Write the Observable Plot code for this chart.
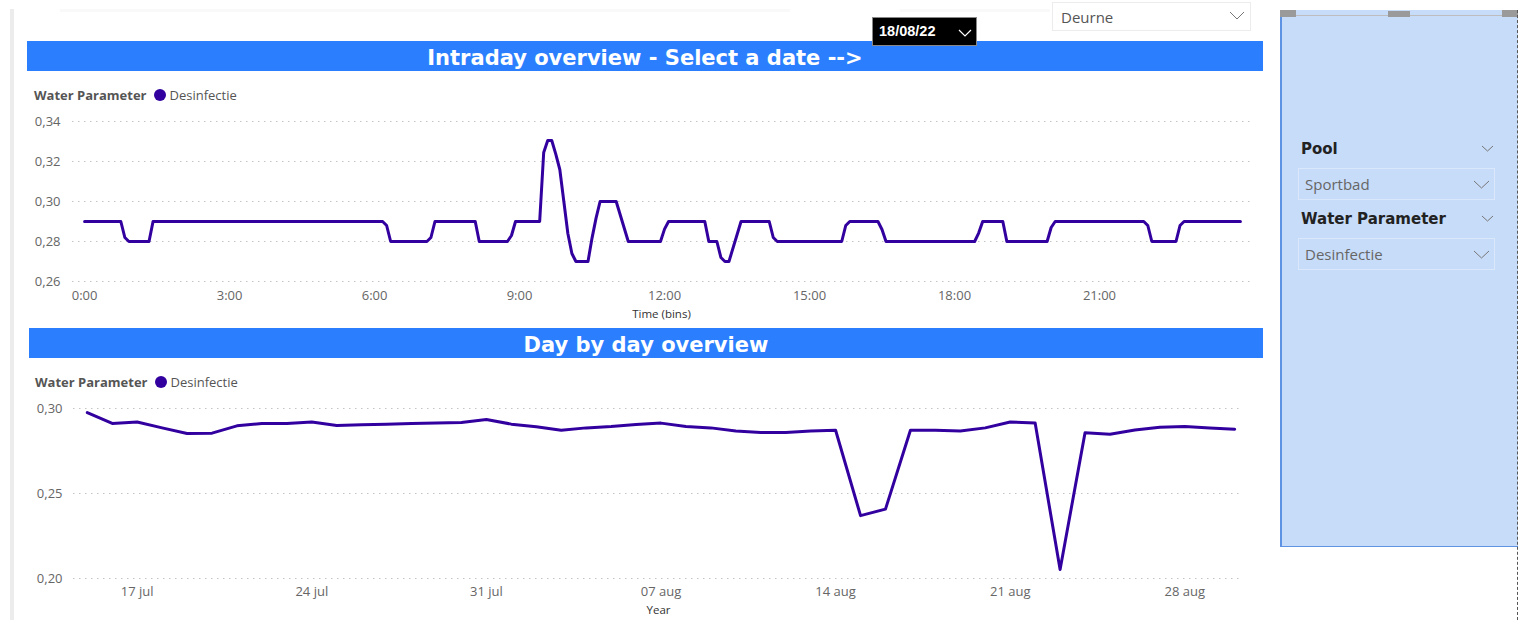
<!DOCTYPE html>
<html>
<head>
<meta charset="utf-8">
<script src="https://cdn.jsdelivr.net/npm/d3@7"></script>
<script src="https://cdn.jsdelivr.net/npm/@observablehq/plot@0.6"></script>
<style>
  html, body { margin: 0; padding: 0; background: #fff; }
  body { width: 1526px; height: 620px; position: relative; overflow: hidden; font-family: "Open Sans", "Noto Sans", sans-serif; }
  .abs { position: absolute; }
  .banner { background: #2B7FFF; color: #fff; font-family: "DejaVu Sans", sans-serif; font-weight: bold; font-size: 21px; text-align: center; line-height: 34px; height: 30px; overflow: hidden; }
  .legend { font-size: 13px; color: #555; white-space: nowrap; display: flex; align-items: center; height: 18px; }
  .legend b { font-weight: 700; color: #555; margin-right: 8px; }
  .legend .dot { width: 12px; height: 12px; border-radius: 50%; background: #3300A0; margin-right: 3px; }
  .slicer-title { font-weight: 700; font-size: 15px; color: #222; font-family: "DejaVu Sans", sans-serif; }
  .drop { border: 1px solid #dbe7fb; box-sizing: border-box; font-size: 15px; color: #666; padding-left: 6px; display: flex; align-items: center; }
</style>
</head>
<body>
<div class="abs" style="left:10px;top:9px;width:4px;height:611px;background:#ececec"></div>
<div class="abs" style="left:60px;top:9px;width:730px;height:3px;background:#f9f9f9"></div>
<div class="abs" style="left:900px;top:9px;width:150px;height:3px;background:#f9f9f9"></div>

<div class="abs banner" style="left:27px;top:41px;width:1236px;">Intraday overview - Select a date --&gt;</div>
<div class="abs banner" style="left:29px;top:328px;width:1234px;">Day by day overview</div>

<div class="abs legend" style="left:34px;top:86px;"><b>Water Parameter</b><span class="dot"></span><span>Desinfectie</span></div>
<div class="abs legend" style="left:35px;top:373px;"><b>Water Parameter</b><span class="dot"></span><span>Desinfectie</span></div>

<div class="abs" style="left:872px;top:17px;width:105px;height:29px;background:#000;border:1px solid #888;box-sizing:border-box;">
  <span class="abs" style="left:6px;top:5px;color:#fff;font-weight:bold;font-size:14.5px;font-family:'Liberation Sans',Arial,sans-serif;">18/08/22</span>
  <svg class="abs" style="left:85px;top:10px" width="14" height="10"><polyline points="1,2 7,8 13,2" fill="none" stroke="#fff" stroke-width="1.2"/></svg>
</div>
<div class="abs" style="left:1052px;top:2px;width:199px;height:29px;border:1px solid #ececec;box-sizing:border-box;">
  <span class="abs" style="left:8px;top:4px;color:#555;font-size:15px;">Deurne</span>
  <svg class="abs" style="left:176px;top:8px" width="16" height="10"><polyline points="1,1 8,8 15,1" fill="none" stroke="#777" stroke-width="1"/></svg>
</div>

<div class="abs" style="left:1280px;top:10px;width:238px;height:537px;background:#C7DCF9;border-left:2px solid #5d93e2;border-bottom:1px solid #5d93e2;box-sizing:border-box;"></div>
<div class="abs" style="left:1280px;top:15px;width:238px;height:1px;background:#bdbdbd"></div>
<div class="abs" style="left:1280px;top:10px;width:16px;height:7px;background:#9a9a9a"></div>
<div class="abs" style="left:1388px;top:11px;width:22px;height:6px;background:#9a9a9a"></div>
<div class="abs" style="left:1502px;top:10px;width:16px;height:7px;background:#9a9a9a"></div>
<div class="abs" style="left:1517px;top:10px;width:0;height:610px;border-left:1px dashed #555"></div>

<div class="abs slicer-title" style="left:1301px;top:140px;">Pool</div>
<svg class="abs" style="left:1481px;top:145px" width="13" height="8"><polyline points="1,1 6.5,6 12,1" fill="none" stroke="#777" stroke-width="1"/></svg>
<div class="abs drop" style="left:1298px;top:168px;width:197px;height:32px;">Sportbad</div>
<svg class="abs" style="left:1473px;top:180px" width="17" height="10"><polyline points="1,1 8.5,8 16,1" fill="none" stroke="#777" stroke-width="1"/></svg>
<div class="abs slicer-title" style="left:1301px;top:210px;">Water Parameter</div>
<svg class="abs" style="left:1481px;top:215px" width="13" height="8"><polyline points="1,1 6.5,6 12,1" fill="none" stroke="#777" stroke-width="1"/></svg>
<div class="abs drop" style="left:1298px;top:238px;width:197px;height:32px;">Desinfectie</div>
<svg class="abs" style="left:1473px;top:250px" width="17" height="10"><polyline points="1,1 8.5,8 16,1" fill="none" stroke="#777" stroke-width="1"/></svg>

<div id="top" class="abs" style="left:20px;top:110px;"></div>
<div id="bottom" class="abs" style="left:20px;top:395px;"></div>

<script>
// ---------- Intraday (18/08/22), Desinfectie, line vertices ----------
const intradayTimes = ["0:00","0:45","0:50","0:55","1:20","1:25","6:10","6:15","6:20","7:05","7:10","7:15","8:05","8:10","8:45","8:50","8:55","9:25","9:30","9:35","9:40","9:45","9:50","9:55","10:00","10:05","10:10","10:25","10:30","10:35","10:40","11:00","11:15","11:55","12:00","12:05","12:50","12:55","13:05","13:10","13:15","13:20","13:35","14:10","14:15","14:20","15:40","15:45","15:50","16:25","16:30","16:35","18:25","18:30","18:35","19:00","19:05","19:55","20:00","20:05","21:55","22:00","22:05","22:35","22:40","22:45","23:55"];
const intradayValues = [0.29,0.29,0.282,0.28,0.28,0.29,0.29,0.288,0.28,0.28,0.282,0.29,0.29,0.28,0.28,0.283,0.29,0.29,0.3245,0.3305,0.3305,0.3237,0.316,0.300,0.284,0.274,0.27,0.27,0.2817,0.2917,0.30,0.30,0.28,0.28,0.2862,0.29,0.29,0.28,0.28,0.272,0.27,0.27,0.29,0.29,0.282,0.28,0.28,0.288,0.29,0.29,0.286,0.28,0.28,0.2842,0.29,0.29,0.28,0.28,0.287,0.29,0.29,0.288,0.28,0.28,0.288,0.29,0.29];
const intradayYTicks = [0.26, 0.28, 0.30, 0.32, 0.34];
const intradayXTicks = ["0:00","3:00","6:00","9:00","12:00","15:00","18:00","21:00"];

// ---------- Day by day ----------
const dailyDates = ["2022-07-15","2022-07-16","2022-07-17","2022-07-18","2022-07-19","2022-07-20","2022-07-21","2022-07-22","2022-07-23","2022-07-24","2022-07-25","2022-07-26","2022-07-27","2022-07-28","2022-07-29","2022-07-30","2022-07-31","2022-08-01","2022-08-02","2022-08-03","2022-08-04","2022-08-05","2022-08-06","2022-08-07","2022-08-08","2022-08-09","2022-08-10","2022-08-11","2022-08-12","2022-08-13","2022-08-14","2022-08-15","2022-08-16","2022-08-17","2022-08-18","2022-08-19","2022-08-20","2022-08-21","2022-08-22","2022-08-23","2022-08-24","2022-08-25","2022-08-26","2022-08-27","2022-08-28","2022-08-29","2022-08-30"];
const dailyValues = [0.2976,0.2912,0.2921,0.2886,0.2853,0.2855,0.2898,0.2912,0.2912,0.2921,0.2900,0.2904,0.2908,0.2912,0.2915,0.2918,0.2935,0.2908,0.2892,0.2872,0.2886,0.2894,0.2906,0.2914,0.2894,0.2886,0.2868,0.2859,0.2859,0.2868,0.2872,0.2370,0.2408,0.2872,0.2872,0.2868,0.2886,0.2921,0.2914,0.2053,0.2857,0.2849,0.2874,0.2890,0.2894,0.2886,0.2878];
const dailyYTicks = [0.20, 0.25, 0.30];
const dailyXTicks = ["2022-07-17","2022-07-24","2022-07-31","2022-08-07","2022-08-14","2022-08-21","2022-08-28"];
const monthNames = ["jan","feb","mrt","apr","mei","jun","jul","aug","sep","okt","nov","dec"];

const lineColor = "#3300A0";
const toHours = s => { const [h, m] = s.split(":").map(Number); return h + m / 60; };
const comma2 = d => d.toFixed(2).replace(".", ",");
const fmtDate = d => String(d.getUTCDate()).padStart(2, "0") + " " + monthNames[d.getUTCMonth()];
const font = "'Open Sans', 'Noto Sans', sans-serif";

const intraday = intradayTimes.map((t, i) => ({t: toHours(t), v: intradayValues[i]}));
const daily = dailyDates.map((d, i) => ({d: new Date(d + "T00:00:00Z"), v: dailyValues[i]}));

const grid = ticks => Plot.gridY(ticks, {stroke: "#c4c4c4", strokeOpacity: 1, strokeDasharray: "1.5,4.5"});

const topChart = Plot.plot({
  width: 1250, height: 215,
  marginLeft: 52, marginRight: 20, marginTop: 11, marginBottom: 44,
  style: {fontFamily: font, fontSize: "13px", color: "#666", background: "transparent"},
  x: {domain: [-0.25, 24.125], label: null},
  y: {domain: [0.26, 0.34], label: null},
  marks: [
    grid(intradayYTicks),
    Plot.axisY(intradayYTicks, {tickSize: 0, tickPadding: 12, tickFormat: comma2, label: null}),
    Plot.axisX(intradayXTicks.map(toHours), {tickSize: 0, tickPadding: 9, tickFormat: h => intradayXTicks[intradayXTicks.map(toHours).indexOf(h)], label: null}),
    Plot.line(intraday, {x: "t", y: "v", stroke: lineColor, strokeWidth: 3, strokeLinejoin: "round", strokeLinecap: "round", curve: "linear"}),
    Plot.text(["Time (bins)"], {frameAnchor: "bottom", dy: 33, lineAnchor: "middle", fill: "#333", fontSize: 11.5})
  ]
});
document.getElementById("top").appendChild(topChart);

const bottomChart = Plot.plot({
  width: 1250, height: 225,
  marginLeft: 53, marginRight: 27, marginTop: 13, marginBottom: 42,
  style: {fontFamily: font, fontSize: "13px", color: "#666", background: "transparent"},
  x: {type: "utc", domain: [new Date("2022-07-14T10:44:00Z"), new Date("2022-08-30T08:28:00Z")], label: null},
  y: {domain: [0.20, 0.30], label: null},
  marks: [
    grid(dailyYTicks),
    Plot.axisY(dailyYTicks, {tickSize: 0, tickPadding: 11, tickFormat: comma2, label: null}),
    Plot.axisX(dailyXTicks.map(d => new Date(d + "T00:00:00Z")), {tickSize: 0, tickPadding: 8, tickFormat: fmtDate, label: null}),
    Plot.line(daily, {x: "d", y: "v", stroke: lineColor, strokeWidth: 3, strokeLinejoin: "round", strokeLinecap: "round"}),
    Plot.text(["Year"], {frameAnchor: "bottom", dy: 32, lineAnchor: "middle", fill: "#333", fontSize: 11.5})
  ]
});
document.getElementById("bottom").appendChild(bottomChart);
</script>
</body>
</html>
